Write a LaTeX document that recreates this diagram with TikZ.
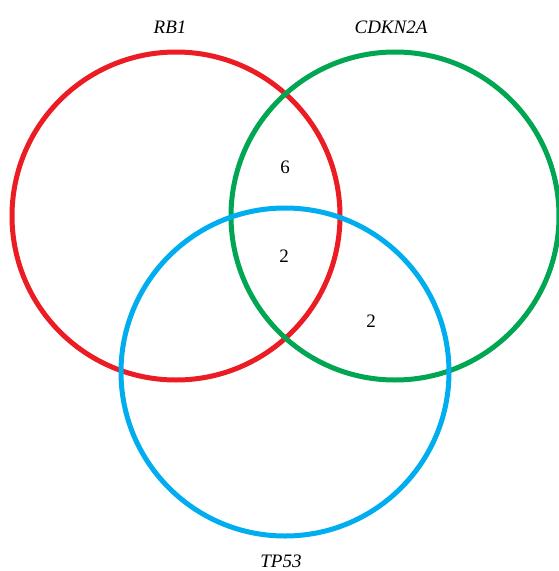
\documentclass[tikz,border=0pt]{standalone}
\usepackage{fontspec}
\setmainfont{Liberation Serif}
\definecolor{vred}{HTML}{EC1C24}
\definecolor{vgreen}{HTML}{00A651}
\definecolor{vblue}{HTML}{00AEEF}
\begin{document}
\begin{tikzpicture}[x=1pt,y=-1pt,
  setring/.style={line width=5pt},
  setlabel/.style={font=\fontsize{19}{22}\selectfont\itshape, inner sep=1pt},
  count/.style={font=\fontsize{19}{22}\selectfont}]
\useasboundingbox (0,0) rectangle (559,571);
% the three sets
\draw[setring,vred]   (176,216) circle[radius=164];
\draw[setring,vgreen] (395,216) circle[radius=164];
\draw[setring,vblue]  (285,372) circle[radius=164];
% set names
\node[setlabel] (rb1)  at (170,27)  {RB1};
\node[setlabel] (cdkn) at (391,27)  {CDKN2A};
\node[setlabel] (tp53) at (281,561) {TP53};
% overlap counts
\node[count] (c12)  at (285,167) {6};
\node[count] (c123) at (284,256) {2};
\node[count] (c23)  at (371,321) {2};
\end{tikzpicture}
\end{document}
